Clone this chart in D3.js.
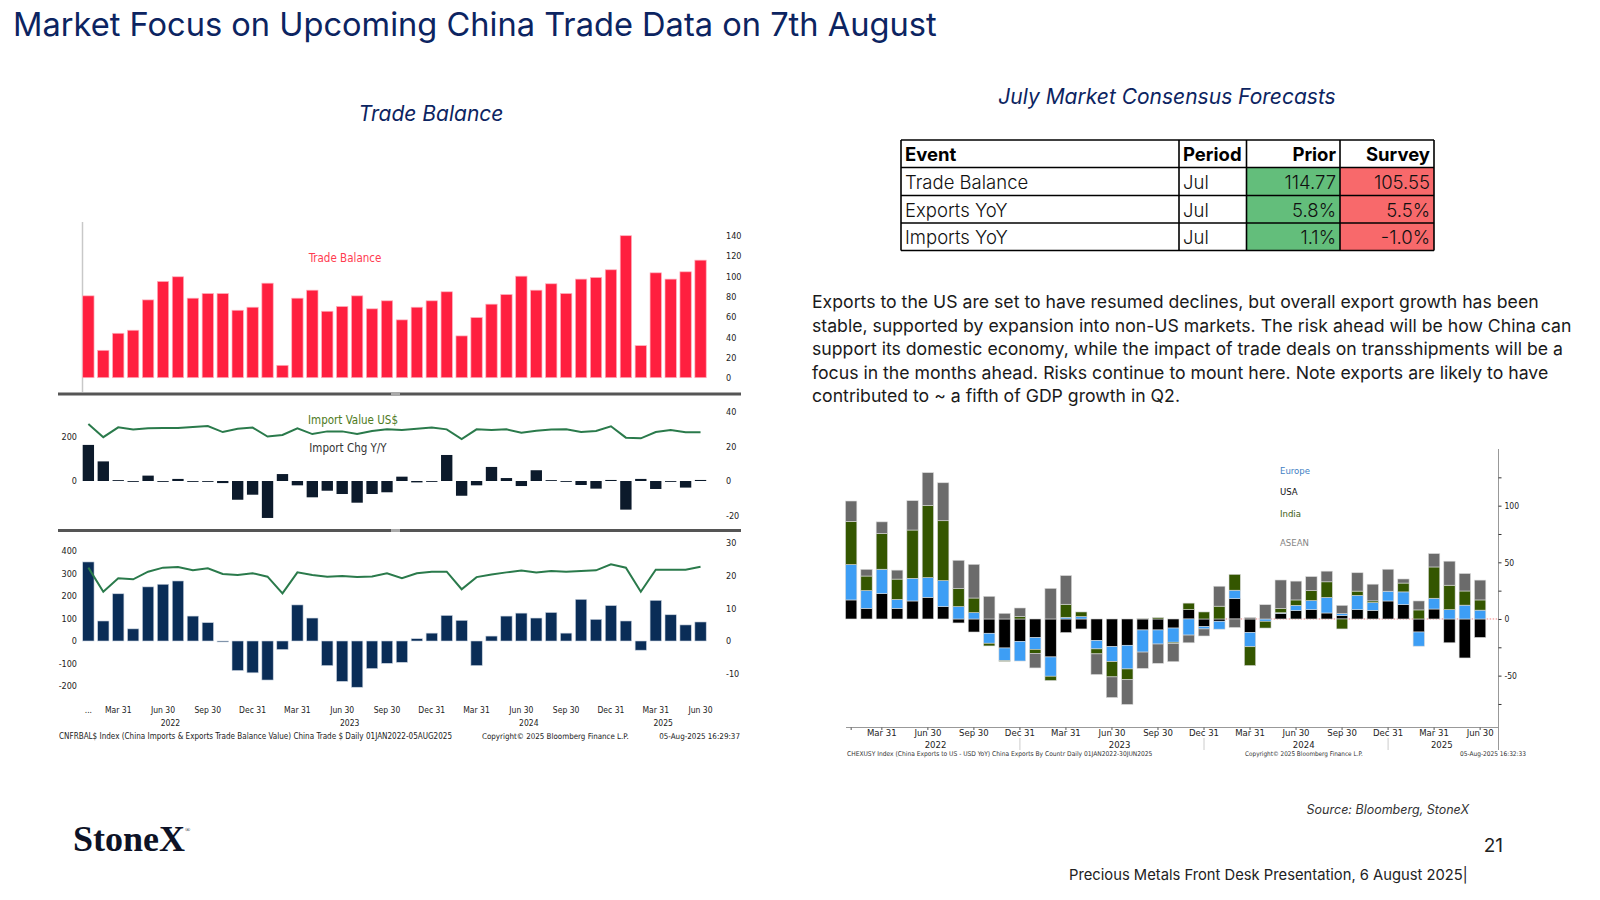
<!DOCTYPE html>
<html>
<head>
<meta charset="utf-8">
<script src="https://cdn.jsdelivr.net/npm/d3@7"></script>
<style>
  body { margin: 0; background: #fff; }
  svg text { font-family: Inter, 'Noto Sans', sans-serif; }
  svg text.bb { font-family: 'DejaVu Sans Condensed', 'DejaVu Sans', sans-serif; }
  svg text.logo { font-family: 'Liberation Serif', 'DejaVu Serif', serif; }
</style>
</head>
<body>
<svg id="slide" width="1600" height="900"></svg>
<script>
// months Jan 2022 .. Jun 2025
const months = d3.timeMonths(new Date(2022, 0, 1), new Date(2025, 6, 1)).map(d3.timeFormat('%Y-%m'));

const tradeBalance = [80.7, 27, 43.8, 46.8, 76.7, 94.9, 99.5, 78.4, 83, 83, 66.5, 69.5, 93.2, 12.2, 78.4, 86.3, 65.5, 70.2, 80.7, 67.9, 75.8,
  57, 69.5, 75.8, 84.7, 41.2, 59.3, 72.5, 82, 100.1, 86.3, 92.6, 83, 97.2, 98.8, 106.4, 140, 31.6, 103.4, 97.2, 104.4, 115.9];
const importValue = [255, 196, 240, 230, 236, 237, 237, 242, 246, 219, 234, 239, 199, 206, 236, 210, 222, 222, 210, 224, 231,
  228, 234, 239, 231, 188, 231, 228, 231, 216, 225, 230, 231, 219, 224, 245, 194, 191, 219, 228, 218, 218];
const importChg = [20.8, 11.3, 0.5, -0.5, 3.1, -0.5, 1.2, -0.5, -0.5, -1.2, -10.8, -7.9, -21.3, 4.0, -2.5, -9.4, -5.6, -7.5, -12.5, -7.5, -6.5,
  2.5, -0.8, -0.5, 15, -8.5, -2.5, 8.1, 1.7, -2.9, 6.2, 0.5, -0.5, -2.3, -4.4, 0.6, -16.5, 1.2, -4.6, -0.5, -3.8, 0.6];
const exportValue = [326, 219, 279, 274, 308, 326, 329, 314, 323, 298, 293, 301, 286, 212, 305, 293, 286, 289, 284, 287, 301,
  279, 301, 308, 308, 230, 284, 296, 305, 313, 305, 311, 308, 311, 314, 341, 326, 219, 317, 317, 317, 330];
const exportChg = [24.1, 6.1, 14.4, 3.7, 16.5, 17.3, 18.3, 7.6, 5.6, -0.3, -9.0, -9.7, -11.9, -2.6, 11.0, 7.0, -7.5, -12.3, -14.1, -8.4, -6.8,
  -6.5, 0.7, 2.4, 7.8, 6.3, -7.5, 1.5, 7.6, 8.5, 7.0, 8.7, 2.4, 12.7, 6.6, 10.8, 6.1, -2.8, 12.4, 8.0, 4.9, 5.8];

// exports YoY by destination
const exUSA = [16.8, 9.4, 22.4, 9.4, 15.9, 19.1, 10.9, -3.5, -11.5, -12.6, -25.6, -19.7, -16.5, -33.5, -12, -8.8, -19, -24.4, -23.2, -9.7, -9.7,
  -8, 8.2, -6.8, -2, 17.9, -11.8, 0, 5, 7.4, 8.2, 5.3, 2.9, 8.2, 7.6, 15.9, 12.6, -11.5, 8.8, -21, -34.4, -16.3];
const exEurope = [31.2, 15.6, 21.5, 7.9, 20, 17.4, 22.9, 10.9, 5.6, -8.8, -11.2, -17.4, -10.3, -17, 1.5, 2.1, -7.4, -13.2, -20.9, -19.5, -12.4,
  -12.5, -14.2, -2, -7, 7.5, -12.7, -2, 0.5, 4.6, 8, 13.7, 1.9, 12.6, 6.8, 8.6, 11.3, -12.5, 9.5, 8.2, 12.2, 7.8];
const exIndia = [38.2, 12.9, 31.5, 17.9, 42.6, 63.8, 52.9, 15.9, 12.9, -2.4, -0.6, 2.1, -3.5, -3.8, 11.5, 4.1, -4.4, -13.5, -9.5, 0.6, 1.2,
  -1.2, 5.8, 6.2, 11.3, 14, -16.6, -6, 3.8, 4.8, 8.8, 13.8, -8.8, 3.8, 1.6, 0, 7.8, 8, 27.6, 21.6, 12.5, 9];
const exASEAN = [17.9, 5.9, 10.3, 7.9, 25.9, 28.8, 33.5, 25, 29.7, 20, 5, 7.6, -12.9, 27, 25.3, 0, -18.2, -18.2, -21.8, -14.4, -17,
  -16, -6.8, -6.2, 17.6, -7.5, 1.3, 12.6, 25.1, 16.6, 12.4, 9.4, 7.2, 16.2, 14.7, 19.4, 3.6, 7.9, 11.8, 21.2, 15.4, 17.5];

const xTicks = [
  ['2022-01', '...'], ['2022-03', 'Mar 31'], ['2022-06', 'Jun 30'], ['2022-09', 'Sep 30'], ['2022-12', 'Dec 31'],
  ['2023-03', 'Mar 31'], ['2023-06', 'Jun 30'], ['2023-09', 'Sep 30'], ['2023-12', 'Dec 31'],
  ['2024-03', 'Mar 31'], ['2024-06', 'Jun 30'], ['2024-09', 'Sep 30'], ['2024-12', 'Dec 31'],
  ['2025-03', 'Mar 31'], ['2025-06', 'Jun 30'],
];
const years = ['2022', '2023', '2024', '2025'];

const tableHead = ['Event', 'Period', 'Prior', 'Survey'];
const tableEvents = ['Trade Balance', 'Exports YoY', 'Imports YoY'];
const tablePeriods = ['Jul', 'Jul', 'Jul'];
const tablePrior = ['114.77', '5.8%', '1.1%'];
const tableSurvey = ['105.55', '5.5%', '-1.0%'];

const paragraph = [
  'Exports to the US are set to have resumed declines, but overall export growth has been',
  'stable, supported by expansion into non-US markets. The risk ahead will be how China can',
  'support its domestic economy, while the impact of trade deals on transshipments will be a',
  'focus in the months ahead. Risks continue to mount here. Note exports are likely to have',
  'contributed to ~ a fifth of GDP growth in Q2.',
];

const navy = '#0c2461';
const svg = d3.select('#slide');
svg.append('rect').attr('width', 1600).attr('height', 900).attr('fill', '#fff');

function fit(sel, width) {
  const w = sel.node().getComputedTextLength();
  sel.attr('font-size', parseFloat(sel.attr('font-size')) * width / w);
  return sel;
}

// ── slide texts ──────────────────────────────────────────────────────────────
fit(svg.append('text').attr('x', 13).attr('y', 36).attr('font-size', 34).attr('fill', navy)
  .text('Market Focus on Upcoming China Trade Data on 7th August'), 924);

svg.append('text').attr('x', 431).attr('y', 121).attr('text-anchor', 'middle')
  .attr('font-size', 21).attr('font-style', 'italic').attr('fill', navy).text('Trade Balance');
svg.append('text').attr('x', 1167).attr('y', 104).attr('text-anchor', 'middle')
  .attr('font-size', 21).attr('font-style', 'italic').attr('fill', navy).text('July Market Consensus Forecasts');

const para = svg.append('g').attr('fill', '#1a1a1a');
const paraLines = para.selectAll('text').data(paragraph).enter().append('text')
  .attr('x', 812).attr('y', (d, i) => 308 + i * 23.6).attr('font-size', 18).text(d => d);
const widest = d3.max(paraLines.nodes(), n => n.getComputedTextLength());
paraLines.attr('font-size', 18 * 760 / widest);

svg.append('text').attr('x', 1469).attr('y', 814).attr('text-anchor', 'end')
  .attr('font-size', 12.5).attr('font-style', 'italic').attr('fill', '#333').text('Source: Bloomberg, StoneX');
svg.append('text').attr('x', 1503).attr('y', 852).attr('text-anchor', 'end')
  .attr('font-size', 19).attr('fill', '#222').text('21');
fit(svg.append('text').attr('x', 1069).attr('y', 880).attr('font-size', 16).attr('fill', '#222')
  .text('Precious Metals Front Desk Presentation, 6 August 2025|'), 399);

const logo = svg.append('text').attr('class', 'logo').attr('x', 73).attr('y', 851).attr('fill', '#0d1226')
  .attr('font-size', 36).attr('font-weight', 'bold');
logo.append('tspan').text('StoneX');
logo.append('tspan').attr('font-size', 7).attr('dy', -19).attr('font-weight', 'normal').text('®');

// ── table ────────────────────────────────────────────────────────────────────
const colX = [901, 1179, 1246.5, 1340, 1434];
const rowY = [140, 167.5, 195.5, 223, 250.5];
const table = svg.append('g');
const rows = tableEvents.map((e, i) => [e, tablePeriods[i], tablePrior[i], tableSurvey[i]]);

table.selectAll('rect.prior').data(tablePrior).enter().append('rect')
  .attr('x', colX[2]).attr('y', (d, i) => rowY[i + 1]).attr('width', colX[3] - colX[2]).attr('height', (d, i) => rowY[i + 2] - rowY[i + 1])
  .attr('fill', '#63be7b');
table.selectAll('rect.survey').data(tableSurvey).enter().append('rect')
  .attr('x', colX[3]).attr('y', (d, i) => rowY[i + 1]).attr('width', colX[4] - colX[3]).attr('height', (d, i) => rowY[i + 2] - rowY[i + 1])
  .attr('fill', '#f8696b');

rowY.forEach(y => table.append('line').attr('x1', colX[0]).attr('x2', colX[4]).attr('y1', y).attr('y2', y));
colX.forEach(x => table.append('line').attr('x1', x).attr('x2', x).attr('y1', rowY[0]).attr('y2', rowY[4]));
table.selectAll('line').attr('stroke', '#000').attr('stroke-width', 1.6);

const cellX = (j) => j < 2 ? colX[j] + 4 : colX[j + 1] - 4;
const anchor = (j) => j < 2 ? 'start' : 'end';
tableHead.forEach((h, j) => {
  table.append('text').attr('x', cellX(j)).attr('y', rowY[0] + 20.5).attr('text-anchor', anchor(j))
    .attr('font-weight', 'bold').attr('font-size', 18.5).attr('fill', '#000')
    .text(h);
});
rows.forEach((r, i) => r.forEach((c, j) => {
  table.append('text').attr('x', cellX(j)).attr('y', rowY[i + 1] + 21).attr('text-anchor', anchor(j))
    .attr('font-size', 18.5).attr('font-weight', 300).attr('fill', '#111').text(c);
}));

// ── left chart: Bloomberg trade panels ───────────────────────────────────────
const xL = d3.scaleBand().domain(months).range([80.9, 708]).paddingInner(0.24).paddingOuter(0.12);
const cxL = m => xL(m) + xL.bandwidth() / 2;
const yTop = d3.scaleLinear().domain([0, 140]).range([377.7, 235.7]);
const yMidPct = d3.scaleLinear().domain([-20, 40]).range([515.7, 411.6]);
const yMidVal = d3.scaleLinear().domain([0, 200]).range([481, 436.3]);
const yBotPct = d3.scaleLinear().domain([-10, 30]).range([673.8, 542.6]);
const yBotVal = d3.scaleLinear().domain([-200, 400]).range([686, 551]);

const left = svg.append('g');

function bbAxis(g, axis, x, values) {
  g.append('g').attr('transform', `translate(${x},0)`)
    .call(axis.tickValues(values).tickSize(0).tickPadding(0).tickFormat(String))
    .call(a => a.select('.domain').remove())
    .call(a => a.selectAll('text').attr('class', 'bb').attr('fill', '#222').attr('font-size', 9));
}

// top: trade balance
left.append('line').attr('x1', 82.5).attr('x2', 82.5).attr('y1', 222).attr('y2', 392).attr('stroke', '#c8c8c8').attr('stroke-width', 1.5);
left.selectAll('rect.tb').data(tradeBalance).enter().append('rect')
  .attr('x', (d, i) => xL(months[i])).attr('width', xL.bandwidth())
  .attr('y', d => yTop(d)).attr('height', d => yTop(0) - yTop(d))
  .attr('fill', '#ff1f3f').attr('stroke', '#ffb0bd').attr('stroke-width', 0.7);
bbAxis(left, d3.axisRight(yTop), 726, d3.range(0, 141, 20));
left.append('text').attr('class', 'bb').attr('x', 345).attr('y', 262).attr('text-anchor', 'middle')
  .attr('font-size', 11.5).attr('fill', '#ff3b4f').text('Trade Balance');

// separators
[392.5, 529].forEach(y => {
  left.append('rect').attr('x', 58).attr('y', y).attr('width', 683).attr('height', 3).attr('fill', '#555');
  left.append('rect').attr('x', 391).attr('y', y).attr('width', 9).attr('height', 3).attr('fill', '#aaa');
});

// middle: imports
left.selectAll('rect.ic').data(importChg).enter().append('rect')
  .attr('x', (d, i) => xL(months[i])).attr('width', xL.bandwidth())
  .attr('y', d => yMidPct(Math.max(0, d))).attr('height', d => Math.abs(yMidPct(d) - yMidPct(0)))
  .attr('fill', '#0c1a2b');
left.append('path').datum(importValue)
  .attr('d', d3.line().x((d, i) => cxL(months[i])).y(d => yMidVal(d)))
  .attr('fill', 'none').attr('stroke', '#2a7a4b').attr('stroke-width', 2);
bbAxis(left, d3.axisLeft(yMidVal), 77, [0, 200]);
bbAxis(left, d3.axisRight(yMidPct), 726, [-20, 0, 20, 40]);
left.append('text').attr('class', 'bb').attr('x', 353).attr('y', 424).attr('text-anchor', 'middle')
  .attr('font-size', 11.5).attr('fill', '#4e7a1c').text('Import Value US$');
left.append('text').attr('class', 'bb').attr('x', 348).attr('y', 452).attr('text-anchor', 'middle')
  .attr('font-size', 11.5).attr('fill', '#333').text('Import Chg Y/Y');

// bottom: exports
left.selectAll('rect.ec').data(exportChg).enter().append('rect')
  .attr('x', (d, i) => xL(months[i])).attr('width', xL.bandwidth())
  .attr('y', d => yBotPct(Math.max(0, d))).attr('height', d => Math.abs(yBotPct(d) - yBotPct(0)))
  .attr('fill', '#0a2d57').attr('stroke', '#c9d3df').attr('stroke-width', 0.6);
left.append('path').datum(exportValue)
  .attr('d', d3.line().x((d, i) => cxL(months[i])).y(d => yBotVal(d)))
  .attr('fill', 'none').attr('stroke', '#2a7a4b').attr('stroke-width', 2);
bbAxis(left, d3.axisLeft(yBotVal), 77, d3.range(-200, 401, 100));
bbAxis(left, d3.axisRight(yBotPct), 726, [-10, 0, 10, 20, 30]);

const yearCenter = (x, y) => d3.mean(months.filter(m => m.startsWith(y)), m => x(m) + x.bandwidth() / 2);

left.selectAll('text.xl').data(xTicks).enter().append('text')
  .attr('class', 'bb').attr('x', d => cxL(d[0])).attr('y', 713).attr('text-anchor', 'middle')
  .attr('font-size', 8.5).attr('fill', '#222').text(d => d[1]);
left.selectAll('text.yl').data(years).enter().append('text')
  .attr('class', 'bb').attr('x', d => yearCenter(xL, d)).attr('y', 726).attr('text-anchor', 'middle')
  .attr('font-size', 8.5).attr('fill', '#222').text(d => d);

const footL = left.append('g').attr('fill', '#222');
fit(footL.append('text').attr('class', 'bb').attr('x', 59).attr('y', 739).attr('font-size', 7.5)
  .text('CNFRBAL$ Index (China Imports & Exports Trade Balance Value) China Trade $  Daily 01JAN2022-05AUG2025'), 394);
fit(footL.append('text').attr('class', 'bb').attr('x', 482).attr('y', 739).attr('font-size', 7.5)
  .text('Copyright\u00a9 2025 Bloomberg Finance L.P.'), 147);
fit(footL.append('text').attr('class', 'bb').attr('x', 740).attr('y', 739).attr('font-size', 7.5).attr('text-anchor', 'end')
  .text('05-Aug-2025 16:29:37'), 81);

// ── right chart: exports by destination ─────────────────────────────────────
const keys = ['usa', 'europe', 'india', 'asean'];
const colors = {usa: '#000000', europe: '#3d9ef5', india: '#345600', asean: '#6b6b6b'};
const exTable = months.map((m, i) => ({month: m, usa: exUSA[i], europe: exEurope[i], india: exIndia[i], asean: exASEAN[i]}));
const series = d3.stack().keys(keys).offset(d3.stackOffsetDiverging)(exTable);

const xR = d3.scaleBand().domain(months).range([843.5, 1487.8]).paddingInner(0.26).paddingOuter(0.13);
const cxR = m => xR(m) + xR.bandwidth() / 2;
const yR = d3.scaleLinear().domain([-100, 150]).range([732.3, 449]);
const right = svg.append('g');

right.append('line').attr('x1', xR(months[24])).attr('x2', 1498).attr('y1', yR(0)).attr('y2', yR(0))
  .attr('stroke', '#f08080').attr('stroke-width', 1).attr('stroke-dasharray', '1.5,1.5');

right.selectAll('g.series').data(series).enter().append('g')
  .attr('fill', d => colors[d.key])
  .selectAll('rect').data(d => d).enter().append('rect')
  .attr('x', d => xR(d.data.month)).attr('width', xR.bandwidth())
  .attr('y', d => yR(Math.max(d[0], d[1]))).attr('height', d => Math.abs(yR(d[0]) - yR(d[1])))
  .attr('stroke', '#d9d9d9').attr('stroke-width', 0.6);

right.append('line').attr('x1', 1498.5).attr('x2', 1498.5).attr('y1', 449).attr('y2', 750).attr('stroke', '#999').attr('stroke-width', 1);
right.append('line').attr('x1', 846).attr('x2', 1498.5).attr('y1', 727.5).attr('y2', 727.5).attr('stroke', '#999').attr('stroke-width', 1);

right.append('g').attr('transform', 'translate(1498.5,0)')
  .call(d3.axisRight(yR).tickValues(d3.range(-75, 150, 25)).tickSize(3).tickPadding(3)
    .tickFormat(v => [-50, 0, 50, 100].includes(v) ? String(v) : ''))
  .call(a => a.select('.domain').remove())
  .call(a => a.selectAll('line').attr('stroke', '#333'))
  .call(a => a.selectAll('text').attr('class', 'bb').attr('fill', '#222').attr('font-size', 8.5));

right.selectAll('line.xt').data(xTicks).enter().append('line')
  .attr('x1', d => cxR(d[0])).attr('x2', d => cxR(d[0]))
  .attr('y1', 727.5).attr('y2', 730).attr('stroke', '#555');
right.selectAll('text.xl').data(xTicks.slice(1)).enter().append('text')
  .attr('class', 'bb').attr('x', d => cxR(d[0])).attr('y', 736).attr('text-anchor', 'middle')
  .attr('font-size', 9.5).attr('fill', '#222').text(d => d[1]);
right.selectAll('text.yl').data(years).enter().append('text')
  .attr('class', 'bb').attr('x', d => yearCenter(xR, d)).attr('y', 748).attr('text-anchor', 'middle')
  .attr('font-size', 9.5).attr('fill', '#222').text(d => d);
right.selectAll('line.ysep').data(xTicks.filter(d => d[1] === 'Dec 31' && d[0] < '2025')).enter().append('line')
  .attr('x1', d => cxR(d[0])).attr('x2', d => cxR(d[0]))
  .attr('y1', 738).attr('y2', 750).attr('stroke', '#ccc');

const legend = [['Europe', '#3f7fc4'], ['USA', '#111'], ['India', '#3d5c12'], ['ASEAN', '#858585']];
right.selectAll('text.leg').data(legend).enter().append('text')
  .attr('class', 'bb').attr('x', 1280).attr('y', (d, i) => [474, 495, 517, 546][i])
  .attr('font-size', 9.5).attr('fill', d => d[1]).text(d => d[0]);

const footR = right.append('g').attr('fill', '#333');
fit(footR.append('text').attr('class', 'bb').attr('x', 847).attr('y', 756).attr('font-size', 5.5)
  .text('CHEXUSY Index (China Exports to US - USD YoY) China Exports By Countr  Daily 01JAN2022-30JUN2025'), 306);
fit(footR.append('text').attr('class', 'bb').attr('x', 1245).attr('y', 756).attr('font-size', 5.5)
  .text('Copyright\u00a9 2025 Bloomberg Finance L.P.'), 118);
fit(footR.append('text').attr('class', 'bb').attr('x', 1526).attr('y', 756).attr('font-size', 5.5).attr('text-anchor', 'end')
  .text('05-Aug-2025 16:32:33'), 66);
</script>
</body>
</html>
